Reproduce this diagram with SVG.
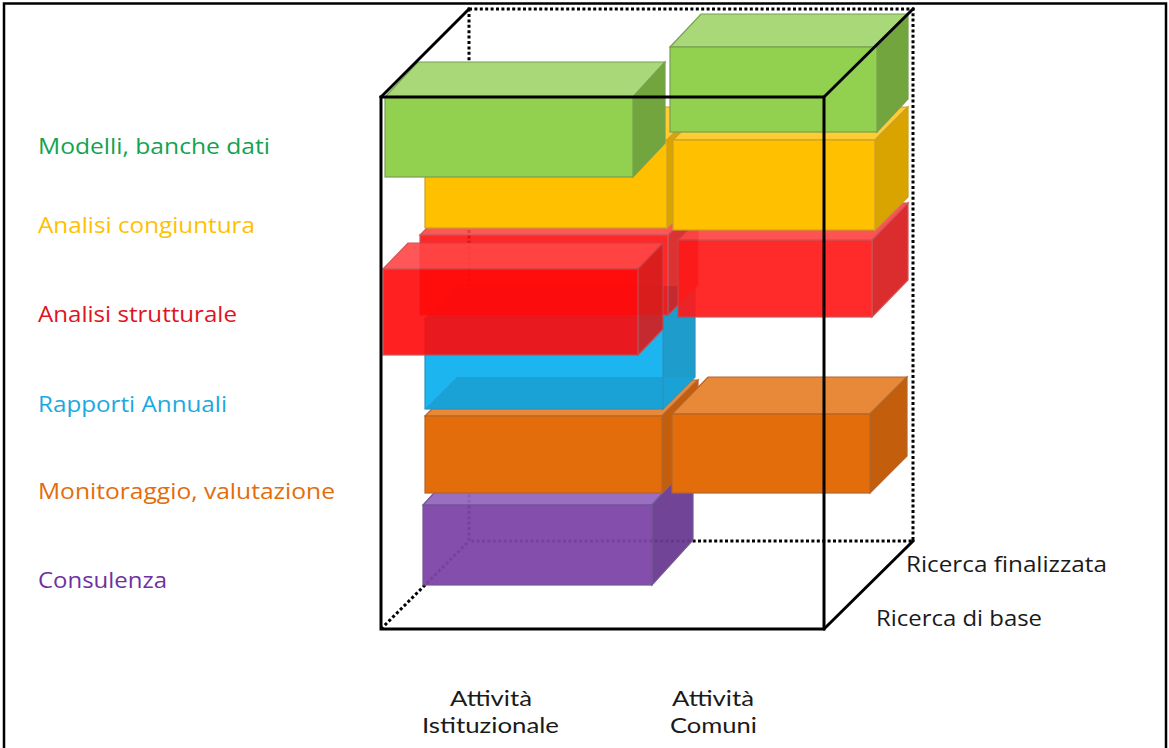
<svg xmlns="http://www.w3.org/2000/svg" width="1169" height="748" viewBox="0 0 1169 748">
<style>
.lbl{font-family:"Open Sans","Noto Sans","Liberation Sans",sans-serif;font-size:22px}
.col{font-family:Lato,"Open Sans","Liberation Sans",sans-serif;font-size:21px}
.blk{fill:#1a1a1a}
.solid{stroke:#000;stroke-width:3;fill:none;stroke-linecap:square}
.dot{stroke:#000;stroke-width:3;fill:none;stroke-dasharray:3 2.4}
.g{stroke:#78a052;stroke-width:1.2}
.y{stroke:#caa02a;stroke-width:1.2}
.r{stroke:#c8464a;stroke-width:1.2}
.b{stroke:#2b93c2;stroke-width:1.2}
.o{stroke:#b5652c;stroke-width:1.2}
.p{stroke:#6a4f8e;stroke-width:1.2}
</style>
<rect x="0" y="0" width="1169" height="748" fill="#fff"/>
<rect x="4" y="3.5" width="1162" height="760" fill="none" stroke="#000" stroke-width="2.5"/>

<g id="cube-back">
<path class="dot" d="M469 9 H913 V541 H469 Z"/>
<path class="dot" d="M381 629 L469 541"/>
</g>

<g id="consulenza-box" opacity="0.95">
<polygon class="p" points="423,505 464,460 693,460 652,505" fill="#9567bf"/>
<polygon class="p" points="652,505 693,460 693,540 652,585" fill="#6b3a92"/>
<rect class="p" x="423" y="505" width="229" height="80" fill="#7e45a9"/>
</g>

<g id="monitoraggio-left">
<polygon class="o" points="425,416 461,380 698,380 662,416" fill="#e8893a"/>
<polygon class="o" points="662,416 698,380 698,457 662,493" fill="#c25e0c"/>
<rect class="o" x="425" y="416" width="237" height="77" fill="#e36c0b"/>
</g>
<g id="monitoraggio-right">
<polygon class="o" points="672,414 708,377 907,377 870,414" fill="#e8893a"/>
<polygon class="o" points="870,414 907,377 907,456 870,493" fill="#c25e0c"/>
<rect class="o" x="672" y="414" width="198" height="79" fill="#e36c0b"/>
</g>

<g id="rapporti-box">
<polygon points="425,318 457,286 695,286 663,318" fill="#1cb5f0"/>
<polygon class="b" points="663,318 695,286 695,377 663,409" fill="#1e9ccb"/>
<rect x="425" y="318" width="238" height="91" fill="#1cb5f0"/>
<polygon points="425,409 457,377 695,377 663,409" fill="#1aa2d6"/>
<rect class="b" x="425" y="318" width="238" height="91" fill="none"/>
</g>

<g id="strutturale-back" opacity="0.9">
<polygon class="r" points="420,235 450,205 698,205 668,235" fill="#ff4545"/>
<polygon class="r" points="668,235 698,205 698,285 668,315" fill="#d81c1c"/>
<rect class="r" x="420" y="235" width="248" height="80" fill="#ff1010"/>
</g>
<g id="strutturale-right" opacity="0.92">
<polygon class="r" points="678,240 714,203 908,203 872,240" fill="#ff4545"/>
<polygon class="r" points="872,240 908,203 908,280 872,317" fill="#d81c1c"/>
<rect class="r" x="678" y="240" width="194" height="77" fill="#ff1a1a"/>
</g>
<g id="strutturale-front" opacity="0.9">
<polygon class="r" points="383,269 408,243 663,243 638,269" fill="#ff4545"/>
<polygon class="r" points="638,269 663,243 663,329 638,355" fill="#d81c1c"/>
<rect class="r" x="383" y="269" width="255" height="86" fill="#ff0a0a"/>
</g>

<g id="congiuntura-left">
<polygon class="y" points="425,140 458,107 700,107 667,140" fill="#ffcd33"/>
<polygon class="y" points="667,140 700,107 700,195 667,228" fill="#d9a300"/>
<rect class="y" x="425" y="140" width="242" height="88" fill="#ffc000"/>
</g>
<g id="congiuntura-right">
<polygon class="y" points="673,140 706,107 908,107 875,140" fill="#ffcd33"/>
<polygon class="y" points="875,140 908,107 908,197 875,230" fill="#d9a300"/>
<rect class="y" x="673" y="140" width="202" height="90" fill="#ffc000"/>
</g>

<g id="modelli-left">
<polygon class="g" points="385,97 418,62 665,62 633,97" fill="#a8d878"/>
<polygon class="g" points="633,97 665,62 665,143 633,177" fill="#72a53e"/>
<rect class="g" x="385" y="97" width="248" height="80" fill="#92d050"/>
</g>
<g id="modelli-right">
<polygon class="g" points="670,47 701,14 908,14 877,47" fill="#a8d878"/>
<polygon class="g" points="877,47 908,14 908,99 877,132" fill="#72a53e"/>
<rect class="g" x="670" y="47" width="207" height="85" fill="#92d050"/>
</g>

<g id="cube-front">
<rect class="solid" x="381" y="97" width="443" height="532"/>
<path class="solid" d="M381 97 L469 9 M824 97 L913 9 M824 629 L913 541"/>
</g>

<g id="labels-rows">
<text class="lbl" x="38" y="154" fill="#12a350" textLength="232" lengthAdjust="spacingAndGlyphs">Modelli, banche dati</text>
<text class="lbl" x="38" y="233" fill="#ffc000" textLength="217" lengthAdjust="spacingAndGlyphs">Analisi congiuntura</text>
<text class="lbl" x="38" y="322" fill="#e0141e" textLength="199" lengthAdjust="spacingAndGlyphs">Analisi strutturale</text>
<text class="lbl" x="38" y="412" fill="#1ba9e1" textLength="189" lengthAdjust="spacingAndGlyphs">Rapporti Annuali</text>
<text class="lbl" x="38" y="499" fill="#e46c0a" textLength="297" lengthAdjust="spacingAndGlyphs">Monitoraggio, valutazione</text>
<text class="lbl" x="38" y="588" fill="#7030a0" textLength="129" lengthAdjust="spacingAndGlyphs">Consulenza</text>
</g>
<g id="labels-depth">
<text class="lbl blk" x="906" y="572" textLength="201" lengthAdjust="spacingAndGlyphs">Ricerca finalizzata</text>
<text class="lbl blk" x="876" y="626" textLength="166" lengthAdjust="spacingAndGlyphs">Ricerca di base</text>
</g>
<g id="labels-columns">
<text class="col blk" x="450" y="706" textLength="82" lengthAdjust="spacingAndGlyphs">Attività</text>
<text class="col blk" x="422" y="733" textLength="137" lengthAdjust="spacingAndGlyphs">Istituzionale</text>
<text class="col blk" x="672" y="706" textLength="82" lengthAdjust="spacingAndGlyphs">Attività</text>
<text class="col blk" x="670" y="733" textLength="87" lengthAdjust="spacingAndGlyphs">Comuni</text>
</g>
</svg>
